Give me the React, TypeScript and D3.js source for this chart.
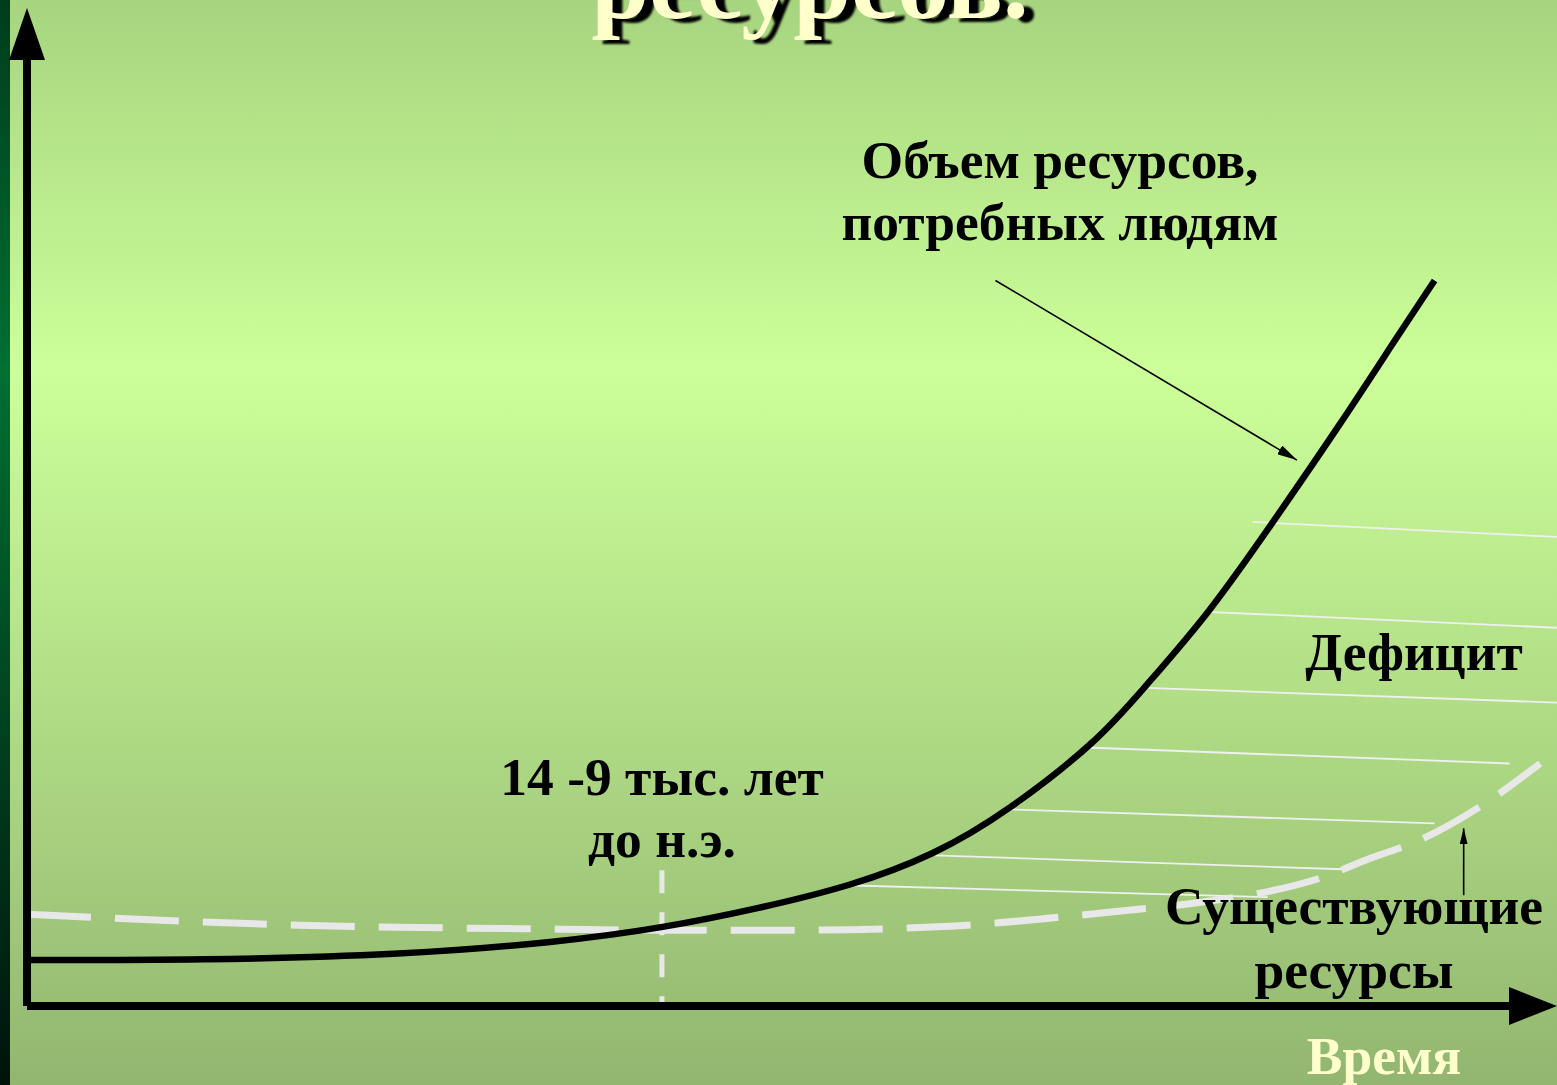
import React from "react";
import * as d3 from "d3";

// ---- data (time in relative units 0..100, volume in relative units 0..100) ----
const needsTime = [0.2, 11.3, 24.4, 34.8, 41.5, 47.9, 53.8, 59.3, 64.2, 70.1, 72.9, 77.3, 81.4, 85.8, 89.7, 92.0];
const needsValue = [4.6, 4.6, 5.1, 6.4, 7.8, 9.8, 12.0, 15.1, 19.6, 26.7, 31.7, 39.4, 48.4, 58.2, 67.4, 72.7];

const existingTime = [0, 17.8, 34.8, 41.5, 50.5, 60.3, 70.1, 76.7, 80.6, 84.5, 87.8, 91.0, 95.0, 98.9];
const existingValue = [9.2, 8.1, 7.7, 7.6, 7.6, 8.0, 9.3, 10.4, 11.3, 12.8, 14.8, 16.6, 20.0, 24.3];

// deficit hatching: start/end time and value of each thin line
const hatchT0 = [80.1, 77.1, 72.7, 69.3, 64.2, 59.3, 53.5];
const hatchV0 = [48.5, 39.5, 31.9, 25.9, 19.7, 15.1, 12.1];
const hatchT1 = [100, 100, 100, 96.9, 92.0, 86.0, 81.1];
const hatchV1 = [47.0, 37.9, 30.4, 24.3, 18.3, 13.7, 10.9];

// marker of the 14-9 thousand years BC epoch
const epochTime = 41.5;
const epochV = [0.3, 13.6];

// pointer arrows [t0, v0, t1, v1]
const needsPointer = [63.3, 72.7, 83.0, 54.7];
const existingPointer = [93.9, 11.1, 93.9, 17.8];

const titleText = "ресурсов.";
const needsLabel = ["Объем ресурсов,", "потребных людям"];
const deficitLabel = "Дефицит";
const epochLabel = ["14 -9 тыс. лет", "до н.э."];
const existingLabel = ["Существующие", "ресурсы"];
const xAxisLabel = "Время";

const W = 1557;
const H = 1085;

export default function App() {
  const x = d3.scaleLinear().domain([0, 100]).range([27, 1557]);
  const y = d3.scaleLinear().domain([0, 100]).range([1006, 8]);

  const smoothLine = d3
    .line<[number, number]>()
    .x((d) => x(d[0]))
    .y((d) => y(d[1]))
    .curve(d3.curveBasis);

  const dashLine = d3
    .line<[number, number]>()
    .x((d) => x(d[0]))
    .y((d) => y(d[1]))
    .curve(d3.curveMonotoneX);

  const needsPts = needsTime.map((t, i) => [t, needsValue[i]] as [number, number]);
  const existPts = existingTime.map((t, i) => [t, existingValue[i]] as [number, number]);

  const font = "'Liberation Serif', 'Times New Roman', serif";
  const x0 = x(0);
  const y0 = y(0);
  const yTop = y(100);
  const xEnd = x(100);

  return (
    <svg
      width={W}
      height={H}
      style={{ position: "absolute", left: 0, top: 0, display: "block" }}
      fontFamily={font}
      fontWeight="bold"
    >
      <defs>
        <linearGradient id="bg" x1="0" y1="0" x2="0" y2="1">
          <stop offset="0" stopColor="#a7d47f" />
          <stop offset="0.34" stopColor="#ccff99" />
          <stop offset="1" stopColor="#92b670" />
        </linearGradient>
        <linearGradient id="strip" x1="0" y1="0" x2="0" y2="1">
          <stop offset="0" stopColor="#003c1c" />
          <stop offset="0.34" stopColor="#007033" />
          <stop offset="1" stopColor="#00130b" />
        </linearGradient>
        <marker id="arr" viewBox="0 0 20 10" refX="20" refY="5" markerWidth="20" markerHeight="10" markerUnits="userSpaceOnUse" orient="auto">
          <path d="M0,0 L20,5 L0,10 Z" fill="#000" />
        </marker>
        <marker id="arrSmall" viewBox="0 0 16 8" refX="16" refY="4" markerWidth="16" markerHeight="8" markerUnits="userSpaceOnUse" orient="auto">
          <path d="M0,0 L16,4 L0,8 Z" fill="#000" />
        </marker>
        <filter id="shadowBlur" x="-10%" y="-10%" width="120%" height="120%">
          <feGaussianBlur stdDeviation="1.2" />
        </filter>
      </defs>

      <rect x={0} y={0} width={W} height={H} fill="url(#bg)" />
      <rect x={0} y={0} width={10} height={H} fill="url(#strip)" />

      {/* title (cut off at the top, as in the slide) */}
      <g fontSize={104} textAnchor="middle">
        <text x={810 + 10} y={18 + 4} fill="#000" filter="url(#shadowBlur)">{titleText}</text>
        <text x={810} y={18} fill="#ffffcc">{titleText}</text>
      </g>

      {/* deficit hatching */}
      {hatchT0.map((t, i) => (
        <line
          key={"h" + i}
          x1={x(t)}
          y1={y(hatchV0[i])}
          x2={x(hatchT1[i])}
          y2={y(hatchV1[i])}
          stroke="#f0f0f0"
          strokeWidth={1.8}
        />
      ))}

      {/* existing resources (dashed) */}
      <path
        d={dashLine(existPts) || ""}
        fill="none"
        stroke="#e8e8e8"
        strokeWidth={7}
        strokeDasharray="64 24"
      />

      {/* epoch marker */}
      <line
        x1={x(epochTime)}
        x2={x(epochTime)}
        y1={y(epochV[1])}
        y2={y(epochV[0])}
        stroke="#e8e8e8"
        strokeWidth={5}
        strokeDasharray="23 19"
      />

      {/* needed resources */}
      <path d={smoothLine(needsPts) || ""} fill="none" stroke="#000" strokeWidth={6.5} />

      {/* axes */}
      <line x1={x0} x2={x0} y1={y0} y2={yTop + 50} stroke="#000" strokeWidth={8} />
      <path d={`M${x0},${yTop} L${x0 + 18},${yTop + 52} L${x0 - 18},${yTop + 52} Z`} fill="#000" />
      <line x1={x0} x2={xEnd - 45} y1={y0} y2={y0} stroke="#000" strokeWidth={8} />
      <path d={`M${xEnd},${y0} L${xEnd - 48},${y0 - 19} L${xEnd - 48},${y0 + 19} Z`} fill="#000" />

      {/* pointers */}
      <line
        x1={x(needsPointer[0])}
        y1={y(needsPointer[1])}
        x2={x(needsPointer[2])}
        y2={y(needsPointer[3])}
        stroke="#000"
        strokeWidth={1.6}
        markerEnd="url(#arr)"
      />
      <line
        x1={x(existingPointer[0])}
        y1={y(existingPointer[1])}
        x2={x(existingPointer[2])}
        y2={y(existingPointer[3])}
        stroke="#000"
        strokeWidth={1.6}
        markerEnd="url(#arrSmall)"
      />

      {/* labels */}
      <g fontSize={53.5} fill="#000" textAnchor="middle">
        <text x={1060} y={178}>{needsLabel[0]}</text>
        <text x={1060} y={240}>{needsLabel[1]}</text>
        <text x={1414} y={670}>{deficitLabel}</text>
        <text x={662} y={795}>{epochLabel[0]}</text>
        <text x={662} y={857}>{epochLabel[1]}</text>
        <text x={1354} y={924}>{existingLabel[0]}</text>
        <text x={1354} y={988}>{existingLabel[1]}</text>
        <text x={1384} y={1074} fill="#ffffcc">{xAxisLabel}</text>
      </g>
    </svg>
  );
}
